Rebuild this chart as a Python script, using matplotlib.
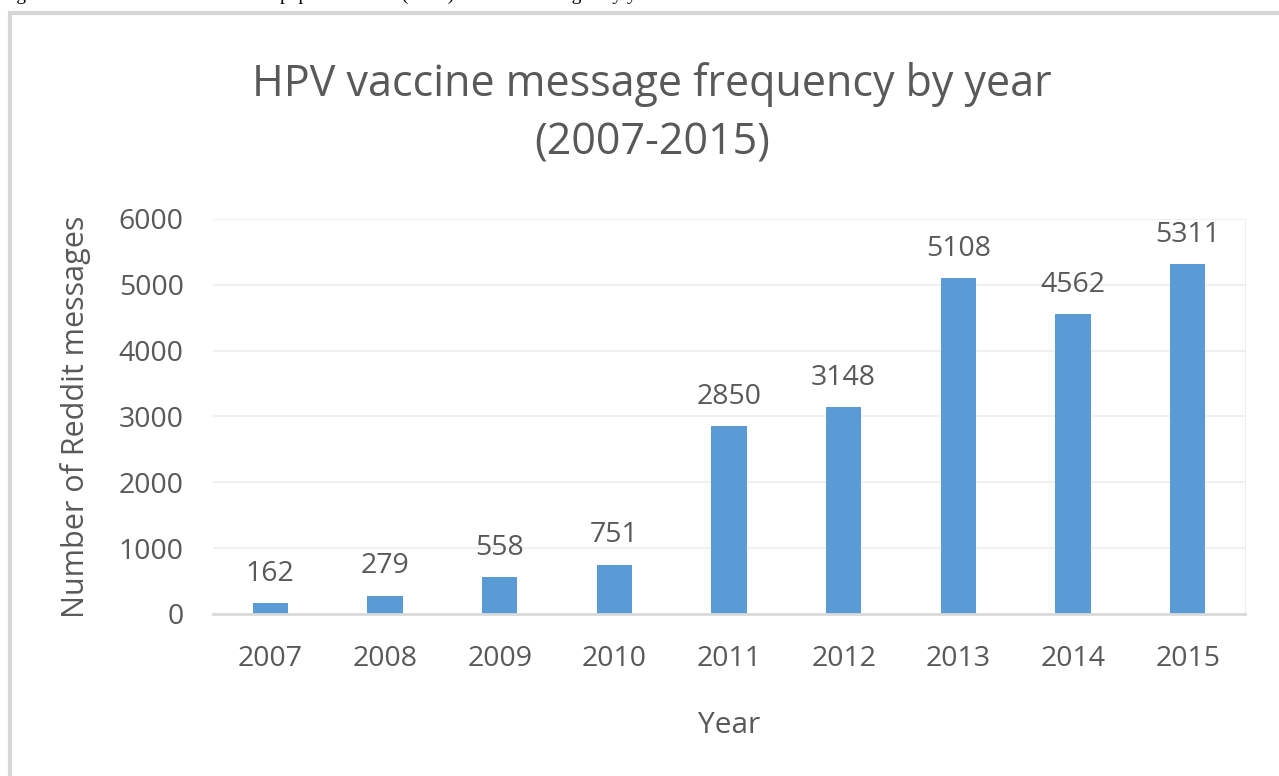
import matplotlib
matplotlib.use('Agg')
import matplotlib.pyplot as plt
from matplotlib.patches import Rectangle

years = ['2007', '2008', '2009', '2010', '2011', '2012', '2013', '2014', '2015']
messages = [162, 279, 558, 751, 2850, 3148, 5108, 4562, 5311]
yticks = [0, 1000, 2000, 3000, 4000, 5000, 6000]

barcolor = '#5B9BD5'
textgrey = '#595959'
gridgrey = '#EDEDED'

plt.rcParams['font.family'] = ['Open Sans', 'DejaVu Sans']

fig = plt.figure(figsize=(12.79, 7.76), dpi=100)
ax = fig.add_axes([0.1665, 0.2088, 0.8069, 0.509])

x = range(len(years))
ax.bar(x, messages, width=0.31, color=barcolor, zorder=3)
for i, v in zip(x, messages):
    ax.text(i, v + 230, str(v), ha='center', va='bottom', fontsize=20.5, color=textgrey)

ax.set_xlim(-0.5, len(years) - 0.5)
ax.set_ylim(0, 6000)
ax.set_xticks(list(x))
ax.set_xticklabels(years)
ax.set_yticks(yticks)
ax.tick_params(axis='both', length=0, labelsize=20.5, labelcolor=textgrey)
ax.tick_params(axis='x', pad=22)
ax.tick_params(axis='y', pad=21)
ax.grid(axis='y', color=gridgrey, linewidth=1.2, zorder=0)
for s in ['left', 'top']:
    ax.spines[s].set_visible(False)
ax.spines['right'].set_color(gridgrey)
ax.spines['bottom'].set_color('#D9D9D9')
ax.spines['bottom'].set_linewidth(2)
ax.spines['bottom'].set_zorder(4)

ax.set_xlabel('Year', fontsize=21.5, color=textgrey, labelpad=28)
ax.set_ylabel('Number of Reddit messages', fontsize=22, color=textgrey, labelpad=20)

fig.text(0.51, 0.854, 'HPV vaccine message frequency by year\n(2007-2015)',
         ha='center', va='center', fontsize=31, color=textgrey, linespacing=1.42)

# outer frame of the pasted chart
fig.patches.append(Rectangle((0.0075, -0.05), 1.05, 1.033, transform=fig.transFigure,
                             fill=False, edgecolor='#D6D6D6', linewidth=3))

# cropped caption line at the very top
fig.text(0.0, 1.006, 'Figure 1. Annual number of human papillomavirus (HPV) vaccine messages by year.',
         ha='left', va='center', fontsize=14, family='Liberation Serif', color='black')

fig.savefig('out.png', dpi=100)
